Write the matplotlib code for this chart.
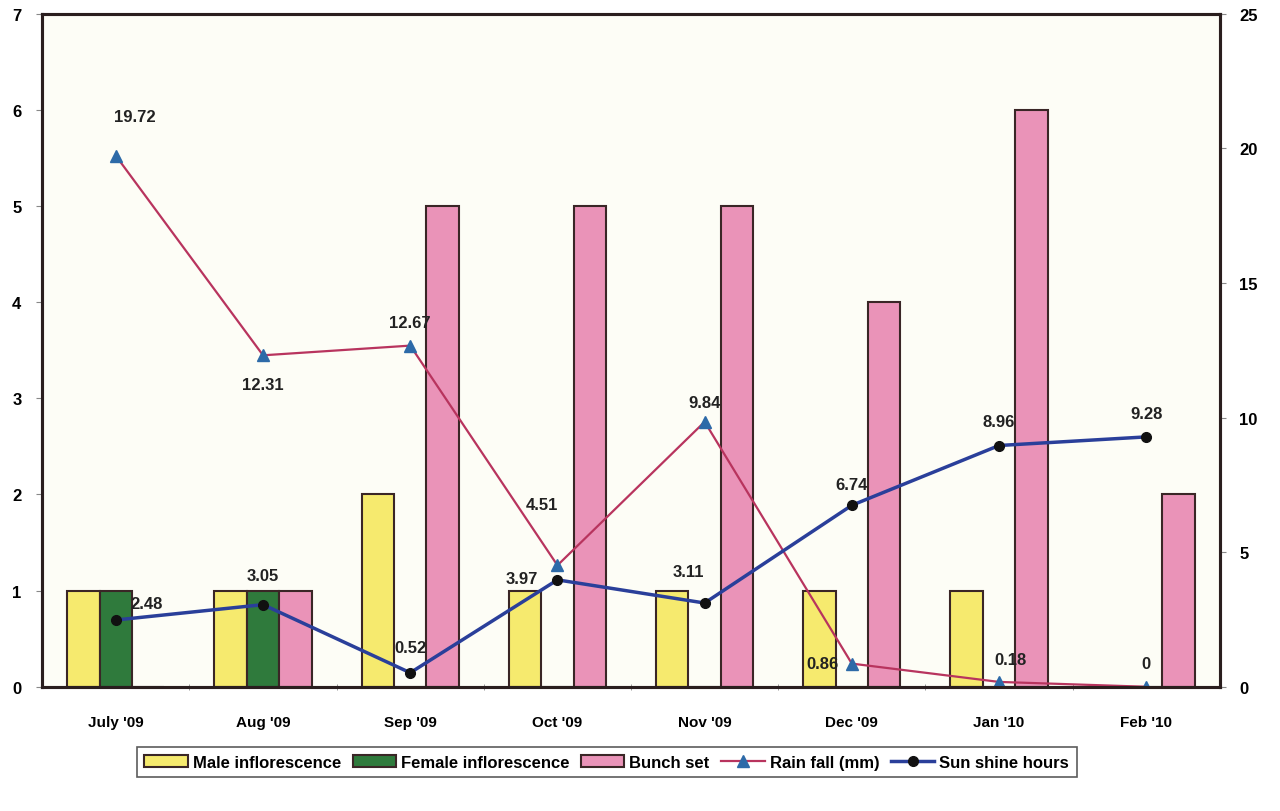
import numpy as np
import matplotlib.pyplot as plt
from matplotlib.ticker import FixedLocator

plt.rcParams['font.family'] = ['Liberation Sans', 'DejaVu Sans']
plt.rcParams['font.weight'] = 'bold'

months = ["July '09", "Aug '09", "Sep '09", "Oct '09", "Nov '09", "Dec '09", "Jan '10", "Feb '10"]
male = [1, 1, 2, 1, 1, 1, 1, 0]
female = [1, 1, 0, 0, 0, 0, 0, 0]
bunch = [0, 1, 5, 5, 5, 4, 6, 2]
rain = [19.72, 12.31, 12.67, 4.51, 9.84, 0.86, 0.18, 0]
sun = [2.48, 3.05, 0.52, 3.97, 3.11, 6.74, 8.96, 9.28]

# label offsets (points) for the data labels
rain_off = [(14, 28), (0, -21), (0, 17), (-11, 44), (0, 14), (-21, 0), (8, 16), (0, 17)]
sun_off = [(22, 12), (0, 21), (0, 18), (-26, 1), (-12, 23), (0, 15), (0, 17), (0, 17)]

edge = '#3a2626'
x = np.arange(len(months))
w = 0.22

fig = plt.figure(figsize=(12.8, 8.12), dpi=100)
fig.patch.set_facecolor('white')
ax = fig.add_axes([0.033, 0.153, 0.920, 0.829])
ax.set_facecolor('#fdfdf6')

ax.bar(x - w, male, w, color='#f6ea6e', edgecolor=edge, linewidth=1.5, label='Male inflorescence')
ax.bar(x, female, w, color='#2f7a3c', edgecolor=edge, linewidth=1.5, label='Female inflorescence')
ax.bar(x + w, bunch, w, color='#ea93b8', edgecolor=edge, linewidth=1.5, label='Bunch set')

ax.set_xlim(-0.5, len(months) - 0.5)
ax.set_ylim(0, 7)
ax.set_yticks(range(8))
ax.set_xticks(x)
ax.set_xticklabels(months)
ax.xaxis.set_minor_locator(FixedLocator(x[1:] - 0.5))
ax.tick_params(axis='x', which='major', length=0, pad=20, labelsize=11)
ax.tick_params(axis='x', which='minor', length=5, direction='inout', color='#888888')
ax.tick_params(axis='y', length=4, color='#888888', labelsize=12, pad=11)

ax2 = ax.twinx()
ax2.plot(x, rain, color='#b8345e', linewidth=1.6, marker='^', markersize=8,
         markerfacecolor='#2d6aa8', markeredgecolor='#2d6aa8', label='Rain fall (mm)')
ax2.plot(x, sun, color='#2a3f9a', linewidth=2.5, marker='o', markersize=7,
         markerfacecolor='#111111', markeredgecolor='#111111', label='Sun shine hours')
ax2.set_ylim(0, 25)
ax2.set_yticks(range(0, 26, 5))
ax2.tick_params(axis='y', length=4, color='#888888', labelsize=12, pad=10)

for xi, v, off in zip(x, rain, rain_off):
    ax2.annotate(f'{v:g}', (xi, v), xytext=off, textcoords='offset points',
                 ha='center', va='center', fontsize=12, fontweight='bold', color='#222222')
for xi, v, off in zip(x, sun, sun_off):
    ax2.annotate(f'{v:g}', (xi, v), xytext=off, textcoords='offset points',
                 ha='center', va='center', fontsize=12, fontweight='bold', color='#222222')

for a in (ax, ax2):
    for s in a.spines.values():
        s.set_color('#2a1e1e')
        s.set_linewidth(2.2)

h1, l1 = ax.get_legend_handles_labels()
h2, l2 = ax2.get_legend_handles_labels()
leg = fig.legend(h1 + h2, l1 + l2, loc='center', bbox_to_anchor=(0.474, 0.0603), ncol=5,
                 frameon=True, fancybox=False, edgecolor='#333333',
                 handlelength=2.6, handletextpad=0.3, columnspacing=0.7,
                 borderpad=0.45, prop={'weight': 'bold', 'size': 12})
leg.get_frame().set_linewidth(1.2)

fig.savefig('out.png', dpi=100)
